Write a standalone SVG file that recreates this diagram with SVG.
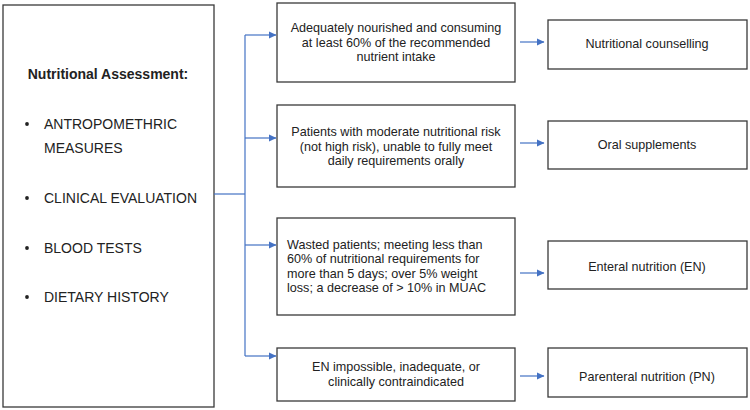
<svg xmlns="http://www.w3.org/2000/svg" width="750" height="410" viewBox="0 0 750 410">
<style>
.box{fill:#fff;stroke:#3a3a3a;stroke-width:1.3}
text{font-family:"Liberation Sans",Arial,sans-serif;font-size:12.6px;fill:#222}
.l{font-size:14px}
.c{text-anchor:middle}
.b{font-weight:bold}
.ln{fill:none;stroke:#4472C4;stroke-width:1.2}
</style>
<defs>
<marker id="ah" markerWidth="8" markerHeight="8" refX="7" refY="4" orient="auto" markerUnits="userSpaceOnUse">
<path d="M0,0.5 L7.5,4 L0,7.5 z" fill="#4472C4"/>
</marker>
</defs>
<rect width="750" height="410" fill="#fff"/>
<g id="assessment">
<rect class="box" x="3" y="5" width="211" height="402"/>
<text class="c b l" x="108" y="79">Nutritional Assessment:</text>
<circle cx="27" cy="124" r="1.9" fill="#222"/>
<text class="l" x="44" y="129">ANTROPOMETHRIC</text>
<text class="l" x="44" y="153">MEASURES</text>
<circle cx="27" cy="198" r="1.9" fill="#222"/>
<text class="l" x="44" y="203">CLINICAL EVALUATION</text>
<circle cx="27" cy="248" r="1.9" fill="#222"/>
<text class="l" x="44" y="253">BLOOD TESTS</text>
<circle cx="27" cy="297" r="1.9" fill="#222"/>
<text class="l" x="44" y="302">DIETARY HISTORY</text>
</g>
<g id="c1">
<rect class="box" x="277" y="3" width="238" height="79"/>
<text class="c" x="396" y="32">Adequately nourished and consuming</text>
<text class="c" x="396" y="47">at least 60% of the recommended</text>
<text class="c" x="396" y="61">nutrient intake</text>
</g>
<g id="c2">
<rect class="box" x="277" y="105" width="238" height="82"/>
<text class="c" x="396" y="136">Patients with moderate nutritional risk</text>
<text class="c" x="396" y="151">(not high risk), unable to fully meet</text>
<text class="c" x="396" y="165">daily requirements orally</text>
</g>
<g id="c3">
<rect class="box" x="277" y="218" width="238" height="97"/>
<text x="287" y="249">Wasted patients; meeting less than</text>
<text x="287" y="263">60% of nutritional requirements for</text>
<text x="287" y="278">more than 5 days; over 5% weight</text>
<text x="287" y="292">loss; a decrease of &gt; 10% in MUAC</text>
</g>
<g id="c4">
<rect class="box" x="277" y="348" width="238" height="53"/>
<text class="c" x="396" y="371">EN impossible, inadequate, or</text>
<text class="c" x="396" y="386">clinically contraindicated</text>
</g>
<g id="r1">
<rect class="box" x="548" y="20" width="199" height="49"/>
<text class="c" x="647" y="48">Nutritional counselling</text>
</g>
<g id="r2">
<rect class="box" x="548" y="121" width="199" height="48"/>
<text class="c" x="647" y="149">Oral supplements</text>
</g>
<g id="r3">
<rect class="box" x="548" y="241" width="199" height="48"/>
<text class="c" x="647" y="271">Enteral nutrition (EN)</text>
</g>
<g id="r4">
<rect class="box" x="548" y="348" width="199" height="49"/>
<text class="c" x="647" y="381">Parenteral nutrition (PN)</text>
</g>
<g id="connectors">
<path class="ln" d="M214,194 H245"/>
<path class="ln" d="M245,35 V356"/>
<path class="ln" d="M245,35 H276" marker-end="url(#ah)"/>
<path class="ln" d="M245,138 H276" marker-end="url(#ah)"/>
<path class="ln" d="M245,245 H276" marker-end="url(#ah)"/>
<path class="ln" d="M245,356 H276" marker-end="url(#ah)"/>
<path class="ln" d="M520,42 H544" marker-end="url(#ah)"/>
<path class="ln" d="M520,143 H544" marker-end="url(#ah)"/>
<path class="ln" d="M520,273 H544" marker-end="url(#ah)"/>
<path class="ln" d="M520,376 H544" marker-end="url(#ah)"/>
</g>
</svg>
